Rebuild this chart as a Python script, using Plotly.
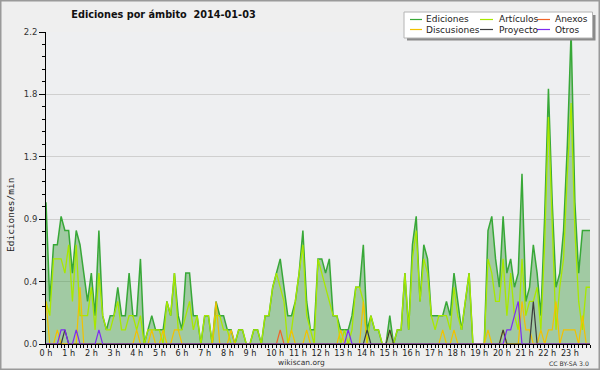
import plotly.graph_objects as go

# ---------------- data ----------------
title_text = "Ediciones por ámbito\u00a0 2014-01-03"
y_title = "Ediciones/min"
series_names = ["Ediciones", "Artículos", "Anexos", "Discusiones", "Proyecto", "Otros"]
hour_labels = [f"{h} h" for h in range(24)]
y_tick_values = [0, 0.44, 0.88, 1.32, 1.76, 2.2]
y_tick_labels = ["0.0", "0.4", "0.9", "1.3", "1.8", "2.2"]

# one value every 10 minutes (00:00 ... 24:00), edits per minute
ediciones = [
    1.0, 0.3, 0.7, 0.7, 0.9, 0.8,
    0.8, 0.5, 0.8, 0.7, 0.5, 0.3,
    0.5, 0.2, 0.8, 0.2, 0.1, 0.2,
    0.2, 0.4, 0.2, 0.2, 0.5, 0.2,
    0.2, 0.6, 0.0, 0.1, 0.2, 0.1,
    0.1, 0.1, 0.3, 0.2, 0.5, 0.2,
    0.1, 0.5, 0.5, 0.2, 0.2, 0.0,
    0.2, 0.2, 0.0, 0.3, 0.2, 0.2,
    0.1, 0.1, 0.0, 0.1, 0.1, 0.0,
    0.0, 0.1, 0.1, 0.0, 0.2, 0.2,
    0.4, 0.5, 0.6, 0.4, 0.2, 0.2,
    0.3, 0.5, 0.8, 0.3, 0.1, 0.1,
    0.6, 0.6, 0.5, 0.6, 0.2, 0.2,
    0.1, 0.1, 0.1, 0.2, 0.4, 0.4,
    0.7, 0.1, 0.2, 0.1, 0.1, 0.0,
    0.0, 0.2, 0.0, 0.1, 0.1, 0.5,
    0.1, 0.7, 0.9, 0.3, 0.7, 0.6,
    0.2, 0.2, 0.2, 0.2, 0.3, 0.2,
    0.5, 0.3, 0.1, 0.3, 0.5, 0.0,
    0.0, 0.0, 0.0, 0.8, 0.9, 0.6,
    0.4, 0.9, 0.5, 0.6, 0.4, 0.5,
    1.2, 0.3, 0.4, 0.7, 0.5, 0.2,
    0.9, 1.8, 1.0, 0.4, 0.5, 0.8,
    1.4, 2.2, 1.0, 0.5, 0.8, 0.8,
    0.8,
]
articulos = [
    0.3, 0.2, 0.6, 0.6, 0.6, 0.5,
    0.7, 0.3, 0.7, 0.2, 0.2, 0.2,
    0.4, 0.1, 0.5, 0.2, 0.1, 0.1,
    0.2, 0.3, 0.1, 0.1, 0.2, 0.2,
    0.1, 0.2, 0.0, 0.1, 0.1, 0.1,
    0.1, 0.0, 0.3, 0.2, 0.5, 0.1,
    0.1, 0.2, 0.3, 0.1, 0.2, 0.0,
    0.2, 0.2, 0.0, 0.2, 0.2, 0.1,
    0.1, 0.0, 0.0, 0.1, 0.1, 0.0,
    0.0, 0.1, 0.1, 0.0, 0.2, 0.2,
    0.4, 0.5, 0.4, 0.3, 0.0, 0.1,
    0.3, 0.5, 0.7, 0.2, 0.1, 0.0,
    0.6, 0.5, 0.4, 0.3, 0.2, 0.2,
    0.0, 0.1, 0.0, 0.1, 0.4, 0.4,
    0.3, 0.0, 0.2, 0.1, 0.1, 0.0,
    0.0, 0.1, 0.0, 0.1, 0.1, 0.5,
    0.1, 0.6, 0.8, 0.3, 0.6, 0.5,
    0.2, 0.1, 0.2, 0.2, 0.2, 0.1,
    0.4, 0.2, 0.1, 0.3, 0.5, 0.0,
    0.0, 0.0, 0.0, 0.6, 0.5, 0.3,
    0.3, 0.6, 0.2, 0.5, 0.2, 0.1,
    0.6, 0.2, 0.3, 0.3, 0.4, 0.1,
    0.7, 1.6, 0.8, 0.1, 0.4, 0.6,
    1.2, 1.7, 0.8, 0.3, 0.1, 0.4,
    0.4,
]
anexos = [
    0, 0, 0, 0, 0, 0,  0, 0, 0, 0, 0, 0,  0, 0, 0, 0, 0, 0,  0, 0, 0, 0, 0, 0,
    0, 0, 0, 0, 0, 0,  0, 0, 0, 0, 0, 0,  0, 0, 0, 0, 0, 0,  0, 0, 0, 0, 0, 0,
    0, 0, 0, 0, 0, 0,  0, 0, 0, 0, 0, 0,  0, 0, 0.1, 0, 0, 0,  0, 0, 0, 0, 0, 0,
    0, 0, 0, 0, 0, 0,  0, 0, 0, 0, 0, 0,  0, 0, 0, 0, 0, 0,  0, 0, 0, 0, 0, 0,
    0, 0, 0, 0, 0, 0,  0, 0, 0, 0, 0, 0,  0, 0, 0, 0, 0, 0,  0, 0, 0, 0, 0, 0,
    0, 0, 0, 0, 0, 0,  0, 0, 0, 0, 0, 0,  0, 0, 0, 0, 0, 0,  0, 0, 0, 0, 0, 0,
    0,
]
discusiones = [
    0.3, 0, 0, 0.1, 0, 0,  0, 0, 0, 0.4, 0, 0,  0, 0, 0, 0, 0, 0,  0, 0, 0, 0, 0, 0,
    0.1, 0, 0, 0, 0.1, 0,  0, 0.1, 0, 0, 0.1, 0.1,  0, 0, 0, 0, 0, 0,  0, 0, 0, 0.3, 0, 0,
    0, 0.1, 0, 0, 0, 0,  0, 0, 0, 0, 0, 0,  0, 0, 0, 0, 0, 0.1,  0, 0, 0, 0.1, 0, 0,
    0, 0, 0, 0, 0, 0,  0.1, 0, 0, 0, 0, 0,  0.3, 0, 0, 0, 0, 0,  0, 0, 0, 0, 0, 0,
    0, 0, 0, 0, 0, 0,  0, 0, 0, 0.1, 0, 0,  0.1, 0, 0, 0, 0, 0,  0, 0, 0, 0.1, 0, 0,
    0, 0.1, 0, 0, 0, 0,  0.3, 0.1, 0.1, 0, 0, 0.1,  0, 0.1, 0.1, 0.3, 0, 0.1,  0.1, 0.1, 0.1, 0, 0.2, 0,
    0,
]
proyecto = [
    0, 0, 0, 0, 0, 0.1,  0, 0, 0, 0, 0, 0,  0, 0, 0, 0, 0, 0,  0, 0, 0, 0, 0, 0,
    0, 0, 0, 0, 0, 0,  0, 0, 0, 0, 0, 0,  0, 0, 0, 0, 0, 0,  0, 0, 0, 0, 0, 0,
    0, 0, 0, 0, 0, 0,  0, 0, 0, 0, 0, 0,  0, 0, 0, 0, 0, 0,  0, 0, 0, 0, 0, 0,
    0, 0, 0, 0, 0, 0,  0, 0, 0, 0, 0, 0,  0, 0.1, 0, 0, 0, 0,  0, 0.1, 0, 0, 0, 0,
    0, 0, 0, 0, 0, 0,  0, 0, 0, 0, 0, 0,  0, 0, 0, 0, 0, 0,  0, 0, 0, 0, 0, 0,
    0, 0.1, 0, 0, 0, 0,  0, 0, 0, 0.3, 0, 0,  0, 0, 0, 0, 0, 0,  0, 0, 0, 0, 0, 0,
    0,
]
otros = [
    0, 0, 0, 0, 0.1, 0.1,  0, 0, 0.1, 0, 0, 0,  0, 0, 0.1, 0, 0, 0,  0, 0, 0, 0, 0, 0,
    0, 0, 0, 0, 0, 0,  0, 0, 0, 0, 0, 0,  0, 0, 0, 0, 0, 0,  0, 0, 0, 0, 0, 0,
    0, 0, 0, 0, 0, 0,  0, 0, 0, 0, 0, 0,  0, 0, 0, 0, 0, 0,  0, 0, 0, 0, 0, 0,
    0, 0, 0, 0, 0, 0,  0, 0, 0.1, 0, 0, 0,  0, 0, 0, 0, 0, 0,  0, 0, 0, 0, 0, 0,
    0, 0, 0, 0, 0, 0,  0, 0, 0, 0, 0, 0,  0, 0, 0, 0, 0, 0,  0, 0, 0, 0, 0, 0,
    0, 0, 0.1, 0.1, 0.2, 0.3,  0, 0, 0, 0, 0, 0,  0, 0, 0, 0, 0, 0,  0, 0, 0, 0, 0, 0,
    0,
]

# time of each sample in hours (10-minute steps)
hours = [i / 6 for i in range(len(ediciones))]

# ---------------- styling ----------------
colors = {
    "Ediciones": "rgb(56,168,56)",
    "Artículos": "#a8e800",
    "Anexos": "#f06428",
    "Discusiones": "#f2c200",
    "Proyecto": "#3c3c3c",
    "Otros": "#7f2cf0",
}
W, H = 600, 370
L, R, T, B = 46, 10, 32, 26
PW, PH = W - L - R, H - T - B
FONT = "DejaVu Sans"


def px(xp):
    return (xp - L) / PW


def py(yp):
    return (H - B - yp) / PH


fig = go.Figure()
fig.add_trace(go.Scatter(
    x=hours, y=ediciones, name="Ediciones", mode="lines",
    line=dict(color=colors["Ediciones"], width=1.5),
    fill="tozeroy", fillcolor="rgba(56,150,56,0.42)",
))
for name, vals, w in [("Artículos", articulos, 1.3),
                      ("Anexos", anexos, 1.2),
                      ("Discusiones", discusiones, 1.2),
                      ("Proyecto", proyecto, 1.2),
                      ("Otros", otros, 1.2)]:
    fig.add_trace(go.Scatter(x=hours, y=vals, name=name, mode="lines",
                             line=dict(color=colors[name], width=w)))

shapes = []
annotations = []
# outer frame
shapes.append(dict(type="rect", xref="paper", yref="paper",
                   x0=px(0.5), x1=px(599.5), y0=py(369.5), y1=py(0.5),
                   line=dict(color="#9a9a9a", width=2), fillcolor="rgba(0,0,0,0)", layer="above"))
# legend box with shadow
shapes.append(dict(type="rect", xref="paper", yref="paper",
                   x0=px(407), x1=px(595.5), y0=py(40.5), y1=py(15),
                   line=dict(width=0), fillcolor="#8a8a8a", layer="above"))
shapes.append(dict(type="rect", xref="paper", yref="paper",
                   x0=px(404), x1=px(592.5), y0=py(38), y1=py(12),
                   line=dict(color="#b4b4b4", width=1), fillcolor="white", layer="above"))
legend_rows = [["Ediciones", "Artículos", "Anexos"], ["Discusiones", "Proyecto", "Otros"]]
col_swatch = [(410, 422), (480, 493), (537, 550)]
col_text = [424, 497, 553]
row_y = [19.5, 29.5]
for r, row in enumerate(legend_rows):
    for c, name in enumerate(row):
        shapes.append(dict(type="line", xref="paper", yref="paper",
                           x0=px(col_swatch[c][0]), x1=px(col_swatch[c][1]),
                           y0=py(row_y[r]), y1=py(row_y[r]),
                           line=dict(color=colors[name], width=1.2), layer="above"))
        annotations.append(dict(xref="paper", yref="paper", x=px(col_text[c]), y=py(row_y[r]),
                                text=name, showarrow=False, xanchor="left", yanchor="middle",
                                font=dict(family=FONT, size=9, color="#222")))
# y axis title
annotations.append(dict(xref="paper", yref="paper", x=px(10), y=py(215), text=y_title,
                        textangle=-90, showarrow=False, xanchor="center", yanchor="middle",
                        font=dict(family="DejaVu Sans Mono", size=9.5, color="#222")))
# footer
annotations.append(dict(xref="paper", yref="paper", x=px(301), y=py(362.5), text="wikiscan.org",
                        showarrow=False, xanchor="center", yanchor="middle",
                        font=dict(family=FONT, size=7.5, color="#333")))
annotations.append(dict(xref="paper", yref="paper", x=px(591), y=py(363.5), text="CC BY-SA 3.0",
                        showarrow=False, xanchor="right", yanchor="middle",
                        font=dict(family=FONT, size=6.2, color="#333")))

# hour labels start a little left of their tick: pad two-digit ones with a figure space
x_ticktext = [("\u2007" + lab) if h >= 10 else lab for h, lab in enumerate(hour_labels)]

fig.update_layout(
    width=W, height=H,
    margin=dict(l=L, r=R, t=T, b=B, pad=0, autoexpand=False),
    paper_bgcolor="#efefef", plot_bgcolor="#eeeff1",
    showlegend=False,
    title=dict(text=title_text, x=163.5 / W, xanchor="center", y=1 - 14 / H, yanchor="middle",
               xref="container", yref="container",
               font=dict(family="DejaVu Sans Condensed, DejaVu Sans", size=10.8, color="#111", weight="bold")),
    xaxis=dict(range=[0, 24], tickmode="array", tickvals=list(range(24)), ticktext=x_ticktext,
               tickangle=0, automargin=False, ticklabelstandoff=-3,
               ticks="outside", ticklen=3, tickcolor="black", tickwidth=1,
               showline=True, linecolor="black", linewidth=1, showgrid=False, zeroline=False,
               tickfont=dict(family="DejaVu Sans Condensed, DejaVu Sans", size=9, color="#222"),
               minor=dict(tickmode="linear", tick0=0, dtick=1 / 6, ticks="outside", ticklen=3,
                          tickcolor="black", showgrid=False)),
    yaxis=dict(range=[0, 2.2], tickmode="array", tickvals=y_tick_values, ticktext=y_tick_labels,
               automargin=False,
               ticks="outside", ticklen=6, tickcolor="black", tickwidth=1,
               showline=True, linecolor="black", linewidth=1,
               showgrid=True, gridcolor="#cfcfcf", gridwidth=1, zeroline=False,
               tickfont=dict(family=FONT, size=8.5, color="#333"),
               minor=dict(tickmode="linear", tick0=0, dtick=0.088, ticks="outside", ticklen=3,
                          tickcolor="black", showgrid=False)),
    shapes=shapes, annotations=annotations,
)

fig.write_html(
    "out.html",
    config={"displayModeBar": False},
    post_script="document.body.style.margin='0';document.body.style.padding='0';"
                "document.documentElement.style.background='#efefef';",
)
